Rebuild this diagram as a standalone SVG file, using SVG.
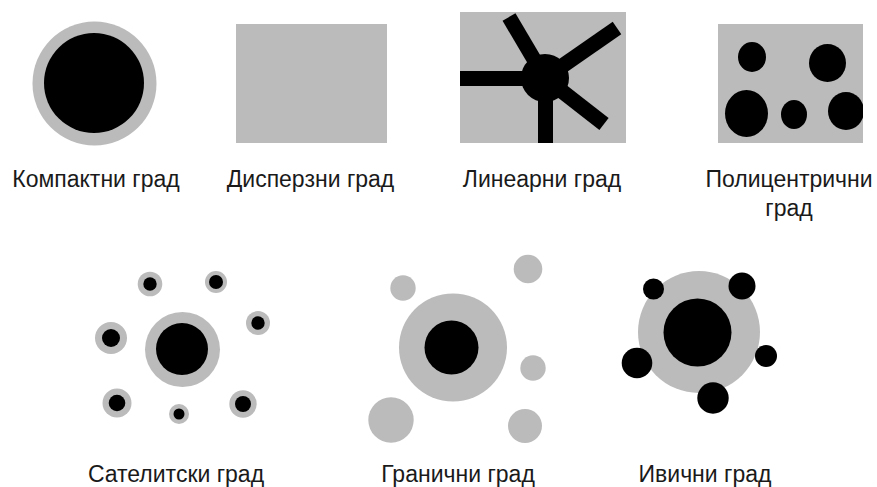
<svg xmlns="http://www.w3.org/2000/svg" width="877" height="487" viewBox="0 0 877 487">
<style>
.g{fill:#bbbbbb}
.k{fill:#000}
.t{font-family:"Liberation Sans",Arial,sans-serif;font-size:23px;fill:#1a1a1a;text-anchor:middle}
.bar{stroke:#000;stroke-width:15;fill:none}
</style>
<defs>
<clipPath id="pc"><rect x="718" y="24" width="145" height="119"/></clipPath>
<clipPath id="lc"><rect x="460" y="12" width="166" height="131"/></clipPath>
</defs>
<rect width="877" height="487" fill="#fff"/>
<g id="compact">
<circle class="g" cx="94.5" cy="83.5" r="62"/>
<circle class="k" cx="94" cy="83" r="50"/>
<text class="t" x="96" y="187">Компактни град</text>
</g>
<g id="dispersed">
<rect class="g" x="236" y="24" width="151" height="119"/>
<text class="t" x="310.5" y="187">Дисперзни град</text>
</g>
<g id="linear">
<rect class="g" x="460" y="12" width="166" height="131"/>
<g clip-path="url(#lc)">
<line class="bar" x1="455" y1="78.5" x2="545" y2="78.5"/>
<line class="bar" x1="545.5" y1="78" x2="545.5" y2="150"/>
<line class="bar" x1="545" y1="78" x2="509" y2="17"/>
<line class="bar" x1="545" y1="78" x2="617" y2="28"/>
<line class="bar" x1="545" y1="78" x2="604" y2="124"/>
<circle class="k" cx="545" cy="78" r="24"/>
</g>
<text class="t" x="542" y="187">Линеарни град</text>
</g>
<g id="polycentric">
<rect class="g" x="718" y="24" width="145" height="119"/>
<g clip-path="url(#pc)">
<ellipse class="k" cx="752" cy="57" rx="14" ry="15"/>
<ellipse class="k" cx="827.5" cy="63" rx="18.5" ry="19"/>
<ellipse class="k" cx="746.5" cy="113.5" rx="21.5" ry="23.5"/>
<ellipse class="k" cx="794" cy="114.5" rx="13" ry="14.5"/>
<ellipse class="k" cx="846" cy="111" rx="18" ry="19"/>
</g>
<text class="t" x="789" y="187">Полицентрични</text>
<text class="t" x="789" y="216">град</text>
</g>
<g id="satellite">
<circle class="g" cx="182.5" cy="349.5" r="37.5"/>
<circle class="k" cx="182" cy="349" r="26"/>
<circle class="g" cx="150" cy="284" r="12.3"/><circle class="k" cx="150" cy="284" r="6.7"/>
<circle class="g" cx="216" cy="282" r="11"/><circle class="k" cx="216" cy="282" r="7"/>
<circle class="g" cx="258" cy="323" r="12"/><circle class="k" cx="258" cy="323" r="6.7"/>
<circle class="g" cx="111" cy="338" r="16"/><circle class="k" cx="111" cy="338" r="9"/>
<circle class="g" cx="117" cy="403" r="14.5"/><circle class="k" cx="117" cy="403" r="8.3"/>
<circle class="g" cx="179" cy="414" r="10"/><circle class="k" cx="179" cy="414" r="5.5"/>
<circle class="g" cx="243" cy="404" r="13.7"/><circle class="k" cx="243" cy="404" r="8"/>
<text class="t" x="176" y="482">Сателитски град</text>
</g>
<g id="boundary">
<circle class="g" cx="453" cy="347.5" r="54"/>
<circle class="k" cx="451.5" cy="347.5" r="27"/>
<circle class="g" cx="403" cy="288" r="12.7"/>
<circle class="g" cx="391" cy="420" r="22.7"/>
<circle class="g" cx="528" cy="269" r="14.3"/>
<circle class="g" cx="533" cy="368" r="12.7"/>
<circle class="g" cx="525" cy="426" r="17"/>
<text class="t" x="458" y="482">Гранични град</text>
</g>
<g id="ring">
<circle class="g" cx="699" cy="332" r="61"/>
<circle class="k" cx="697.5" cy="332.5" r="34"/>
<circle class="k" cx="653.5" cy="289" r="10.5"/>
<circle class="k" cx="742" cy="286" r="13.5"/>
<circle class="k" cx="637" cy="363" r="15.3"/>
<circle class="k" cx="766" cy="356" r="11"/>
<circle class="k" cx="713" cy="398" r="15.7"/>
<text class="t" x="705" y="482">Ивични град</text>
</g>
<g id="connectors"/>
</svg>
